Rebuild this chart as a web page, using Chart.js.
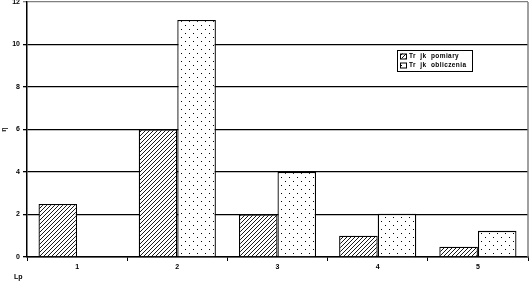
<!DOCTYPE html>
<html>
<head>
<meta charset="utf-8">
<script src="https://cdn.jsdelivr.net/npm/chart.js@4/dist/chart.umd.min.js"></script>
<style>
  html, body { margin: 0; padding: 0; background: #fff; }
  #wrap { width: 530px; height: 281px; }
</style>
</head>
<body>
<div id="wrap"><canvas id="chart" width="530" height="281"></canvas></div>
<script>
const categories = ['1', '2', '3', '4', '5'];
const seriesNames = ['Tr  jk  pomiary', 'Tr  jk  obliczenia'];
const measured = [2.5, 6.0, 2.0, 1.0, 0.48];
const computed = [0, 11.15, 4.0, 2.03, 1.23];
const yTicks = [0, 2, 4, 6, 8, 10, 12];

// fill patterns like the old spreadsheet chart
function hatchPattern() {
  const c = document.createElement('canvas');
  c.width = 4; c.height = 4;
  const g = c.getContext('2d');
  g.fillStyle = '#fff';
  g.fillRect(0, 0, 4, 4);
  g.strokeStyle = '#000';
  g.lineWidth = 0.9;
  g.beginPath();
  g.moveTo(-1, 5); g.lineTo(5, -1);
  g.moveTo(-1, 1); g.lineTo(1, -1);
  g.moveTo(3, 5); g.lineTo(5, 3);
  g.stroke();
  return g.createPattern(c, 'repeat');
}

function dotPattern() {
  const c = document.createElement('canvas');
  c.width = 8; c.height = 8;
  const g = c.getContext('2d');
  g.fillStyle = '#fff';
  g.fillRect(0, 0, 8, 8);
  g.fillStyle = '#000';
  g.fillRect(1, 1, 1, 1);
  g.fillRect(5, 5, 1, 1);
  return g.createPattern(c, 'repeat');
}

const patterns = [hatchPattern(), dotPattern()];

const tickFont = { family: '"Liberation Sans", Arial, sans-serif', size: 7, weight: 'bold' };

const boxLegend = {
  id: 'boxLegend',
  afterDraw(chart) {
    const ctx = chart.ctx;
    const x = 397, y = 50, w = 75, h = 21;
    ctx.save();
    ctx.fillStyle = '#fff';
    ctx.fillRect(x, y, w, h);
    ctx.strokeStyle = '#000';
    ctx.lineWidth = 1;
    ctx.strokeRect(x + 0.5, y + 0.5, w, h);
    ctx.font = 'bold 6.5px "Liberation Sans", Arial, sans-serif';
    ctx.letterSpacing = '0.4px';
    ctx.textBaseline = 'middle';
    chart.data.datasets.forEach((ds, i) => {
      const yy = y + 6 + i * 9;
      ctx.fillStyle = ds.backgroundColor;
      ctx.fillRect(x + 3, yy - 2.5, 6, 5);
      ctx.strokeStyle = '#000';
      ctx.strokeRect(x + 3.5, yy - 2, 6, 5);
      ctx.fillStyle = '#000';
      ctx.fillText(ds.label, x + 12, yy + 0.5);
    });
    ctx.restore();
  }
};

// gray right border and the x title sitting at the lower left
const frame = {
  id: 'frame',
  afterDraw(chart) {
    const a = chart.chartArea;
    const ctx = chart.ctx;
    ctx.save();
    ctx.strokeStyle = '#808080';
    ctx.lineWidth = 1.5;
    ctx.beginPath();
    ctx.moveTo(a.right, a.top);
    ctx.lineTo(a.right, a.bottom);
    ctx.stroke();
    ctx.fillStyle = '#000';
    ctx.font = 'bold 7px "Liberation Sans", Arial, sans-serif';
    ctx.textBaseline = 'middle';
    ctx.fillText('Lp', 14, 277);
    ctx.restore();
  }
};

new Chart(document.getElementById('chart'), {
  type: 'bar',
  data: {
    labels: categories,
    datasets: [
      { label: seriesNames[0], data: measured, backgroundColor: patterns[0], borderColor: '#000', borderWidth: 1.3 },
      { label: seriesNames[1], data: computed, backgroundColor: patterns[1], borderColor: '#000', borderWidth: 1.3 }
    ]
  },
  options: {
    responsive: false,
    animation: false,
    layout: { padding: { top: 2, right: 2, left: 0, bottom: 0 } },
    datasets: { bar: { categoryPercentage: 0.77, barPercentage: 1.0 } },
    plugins: { legend: { display: false }, tooltip: { enabled: false } },
    scales: {
      x: {
        grid: { drawOnChartArea: false, drawTicks: true, tickLength: 4, color: '#000', lineWidth: 1 },
        border: { color: '#000', width: 1.5 },
        ticks: { color: '#000', font: tickFont, padding: 2 },
        afterFit(scale) { scale.height = 24; scale.paddingLeft = 0; scale.paddingRight = 0; }
      },
      y: {
        min: 0,
        max: 12,
        afterBuildTicks(scale) { scale.ticks = yTicks.map(v => ({ value: v })); },
        grid: {
          color: c => (c.tick && c.tick.value === 12 ? '#808080' : '#000'),
          lineWidth: 1.3,
          tickLength: 4
        },
        border: { color: '#000', width: 1.5 },
        ticks: { color: '#000', font: tickFont, padding: 3 },
        title: { display: true, text: 'η', color: '#000', font: tickFont, padding: 0 },
        afterFit(scale) { scale.width = 27; scale.paddingTop = 0; scale.paddingBottom = 0; }
      }
    }
  },
  plugins: [frame, boxLegend]
});
</script>
</body>
</html>
